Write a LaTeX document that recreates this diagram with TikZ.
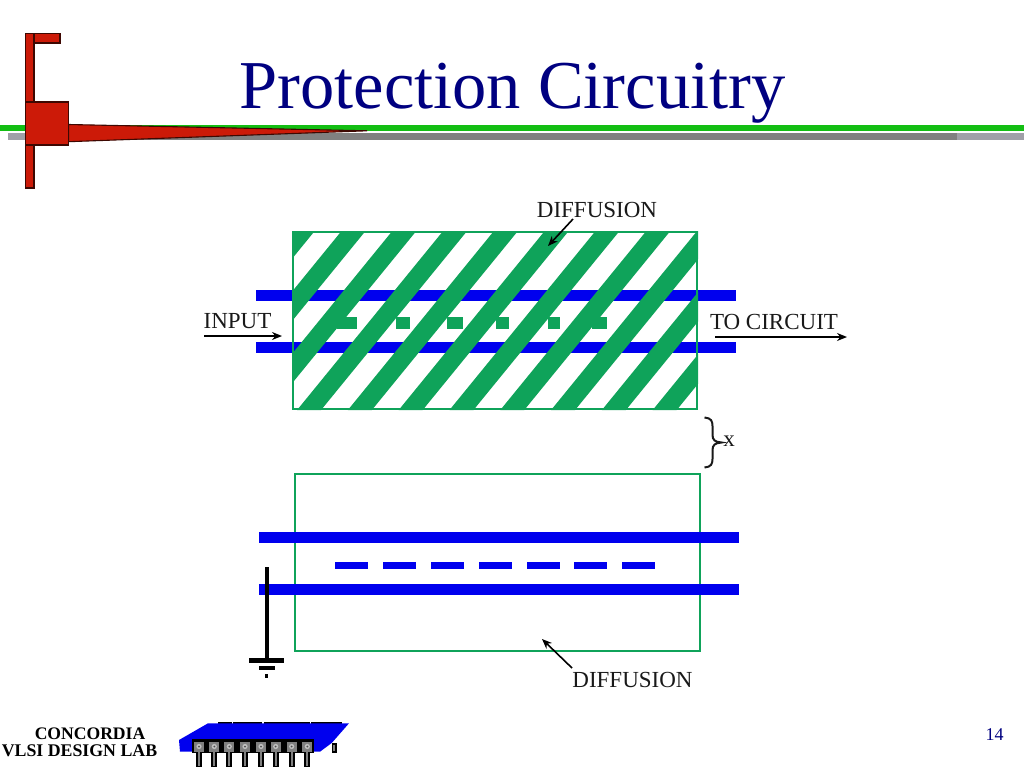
\documentclass[tikz,border=0pt]{standalone}
\usepackage{fontspec}
\setmainfont{Liberation Serif}
\usetikzlibrary{arrows.meta}
\definecolor{navy}{HTML}{000080}
\definecolor{slidegreen}{HTML}{13BE13}
\definecolor{slidegray}{HTML}{808080}
\definecolor{slidegraylt}{HTML}{A0A0A8}
\definecolor{logored}{HTML}{CC1A08}
\definecolor{diff}{HTML}{0FA35A}
\definecolor{metal}{HTML}{0000EE}
\tikzset{
  px/.style={x=1pt,y=-1pt},
  redpart/.style={fill=logored,draw=black!70!logored,line width=1.1pt},
  diffbox/.style={draw=diff,line width=2.4pt,fill=none},
  lab/.style={font=\fontsize{23}{24}\selectfont,inner sep=0pt,text=black!90},
  pointer/.style={-{Stealth[length=10pt,width=8pt]},line width=1.6pt,black},
  gnd/.style={fill=black,draw=none}
}
\begin{document}
\begin{tikzpicture}[px]
\useasboundingbox (0,0) rectangle (1024,768);
% header rules
\fill[slidegraylt] (8,133) rectangle (1024,140);
\fill[slidegray] (25,133) rectangle (957,140);
\fill[slidegreen] (0,125) rectangle (1024,131);
% logo
\draw[redpart] (25.5,33.5) rectangle (34,188);
\draw[redpart] (34,33.5) rectangle (60,43);
\draw[redpart] (68.5,124.5) -- (367,130.8) -- (68.5,141.7) -- cycle;
\draw[redpart] (25.5,102) rectangle (68.5,145);
\node (title) at (512.5,93) [text=navy,inner sep=0pt,font=\fontsize{68.5}{70}\selectfont] {Protection Circuitry};
% upper layout
\fill[metal] (256,289.5) rectangle (736,301);
\fill[metal] (256,342) rectangle (736,353);
\foreach \a/\b in {337/357,396/410,447/463,496/509,548/560,592/607}
  \fill[diff] (\a,317) rectangle (\b,329);
\begin{scope}
\clip (292,231) rectangle (698,410);
\foreach \k in {-1,...,10}
  \fill[diff] ({341.5+50.8*\k},231) -- ({365.5+50.8*\k},231) -- ({365.5+50.8*\k-146},410) -- ({341.5+50.8*\k-146},410) -- cycle;
\end{scope}
\node (upperbox) [diffbox,minimum width=404pt,minimum height=177pt,inner sep=0pt] at (495,320.5) {};
\node (difftop) [lab] at (597,210) {DIFFUSION};
\coordinate (difftopTip) at (548,246);
\draw[pointer] (573,219) -- (difftopTip);
\node (input) [lab] at (237.5,321.5) {INPUT};
\coordinate (inL) at (204,336);
\coordinate (inR) at (282,336);
\draw[pointer] (inL) -- (inR);
\node (tocircuit) [lab] at (774,322) {TO CIRCUIT};
\coordinate (outL) at (715,337);
\coordinate (outR) at (847,337);
\draw[pointer] (outL) -- (outR);
% brace
\draw[line width=2pt,black!90] (704.5,417.5) .. controls (711,418) and (712.5,421) .. (712.5,426) -- (712.5,435) .. controls (712.5,440) and (715,442) .. (721.5,442.5) .. controls (715,443) and (712.5,445) .. (712.5,450) -- (712.5,459) .. controls (712.5,464) and (711,467) .. (704.5,467.5);
\node (xlabel) [lab] at (729,441) {x};
% lower layout
\node (lowerbox) [diffbox,minimum width=405pt,minimum height=177pt,inner sep=0pt] at (497.5,562.5) {};
\fill[metal] (259,532) rectangle (739,543);
\fill[metal] (259,583.5) rectangle (739,595);
\foreach \a in {335,383,431,479,527,574,622}
  \fill[metal] (\a,562) rectangle (\a+33,568.5);
\fill[gnd] (264.5,567) rectangle (268.5,660);
\fill[gnd] (249,658) rectangle (284,662.5);
\fill[gnd] (258.5,666) rectangle (274.5,670);
\fill[gnd] (264.5,674) rectangle (268,678);
\node (diffbot) [lab] at (632.5,680) {DIFFUSION};
\coordinate (diffbotTip) at (542,639);
\draw[pointer] (572,668) -- (diffbotTip);
% footer
\node (concordia) at (90,733.8) [inner sep=0pt,font=\fontsize{17.6}{18}\selectfont\bfseries] {CONCORDIA};
\node (vlsi) at (79.5,750.8) [inner sep=0pt,font=\fontsize{17.8}{18}\selectfont\bfseries] {VLSI DESIGN LAB};
\node (pagenum) at (994.5,735) [inner sep=0pt,text=navy,font=\fontsize{18}{20}\selectfont] {14};
% chip
\foreach \a/\b in {218/231.7,233/262,264/310,311/342}
  \fill[black] (\a,721.7) rectangle (\b,724);
\fill[metal] (179,740) -- (208,723.3) -- (349,723.3) -- (331.7,743) -- (320,751.7) -- (180,751.7) -- cycle;
\fill[black] (191.7,739) rectangle (314.3,753);
\foreach \x in {199,214.3,229.3,245,261,275.7,291.7,307.3} {
  \fill[black] (\x-3,752) rectangle (\x+3,767);
  \fill[gray] (\x-1,752) rectangle (\x+1,766);
  \fill[black!50] (\x-5,741.7) rectangle (\x+5,752.3);
  \fill[black!25] (\x,746.5) circle (2.6pt);
  \fill[black!70] (\x,746.5) circle (1pt);
}
\fill[black] (331.7,743) rectangle (336.5,753);
\fill[gray] (333,745) rectangle (335,751);
\end{tikzpicture}
\end{document}
